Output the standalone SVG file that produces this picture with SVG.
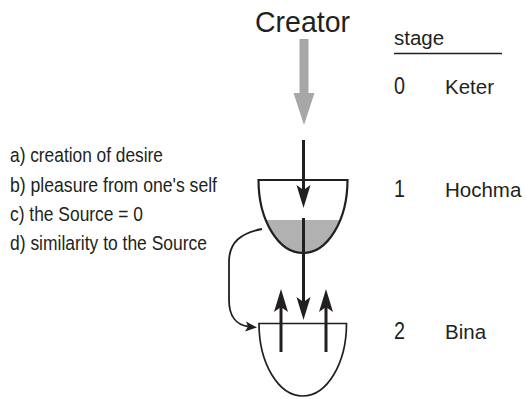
<svg xmlns="http://www.w3.org/2000/svg" xmlns:xlink="http://www.w3.org/1999/xlink" width="526" height="399" viewBox="0 0 526 399">
<style>
text{font-family:"Liberation Sans",Arial,sans-serif;fill:#231f20}
.lbl{font-size:20.5px}
.stg{font-size:20.5px}
.num{font-size:23px}
.bowl{fill:none;stroke:#231f20}
.ln{stroke:#231f20;stroke-width:3;fill:none}
.hd{fill:#231f20}
</style>
<defs>
<path id="head" d="M0,0 L-7,-23 L0,-18 L7,-23 Z"/>
<clipPath id="lower"><rect x="250" y="220" width="110" height="40"/></clipPath>
</defs>
<rect width="526" height="399" fill="#fff"/>

<g id="creator">
<text x="255" y="31.7" font-size="30" textLength="95" lengthAdjust="spacingAndGlyphs">Creator</text>
<polygon points="299.5,39 308.5,39 308.5,93 314.5,93 304,125 293.5,93 299.5,93" fill="#a7a7a7"/>
</g>

<g id="stage-header">
<text class="stg" x="394" y="45">stage</text>
<line x1="394" y1="53.5" x2="502" y2="53.5" stroke="#231f20" stroke-width="1.3"/>
</g>
<g id="stage0">
<text class="num" x="394" y="94" textLength="11" lengthAdjust="spacingAndGlyphs">0</text>
<text class="stg" x="445" y="94">Keter</text>
</g>
<g id="stage1">
<text class="num" x="394" y="197" textLength="11" lengthAdjust="spacingAndGlyphs">1</text>
<text class="stg" x="445" y="197">Hochma</text>
</g>
<g id="stage2">
<text class="num" x="394" y="339" textLength="11" lengthAdjust="spacingAndGlyphs">2</text>
<text class="stg" x="445" y="339">Bina</text>
</g>

<g id="list">
<text class="lbl" x="10" y="162" textLength="153" lengthAdjust="spacingAndGlyphs">a) creation of desire</text>
<text class="lbl" x="10" y="191.5" textLength="207" lengthAdjust="spacingAndGlyphs">b) pleasure from one's self</text>
<text class="lbl" x="10" y="221" textLength="133" lengthAdjust="spacingAndGlyphs">c) the Source = 0</text>
<text class="lbl" x="10" y="250" textLength="197" lengthAdjust="spacingAndGlyphs">d) similarity to the Source</text>
</g>

<g id="bowl1">
<path d="M347.5,180 A44.5,73 0 0 1 258.5,180 Z" fill="#b1b1b1" stroke="none" clip-path="url(#lower)"/>
<path class="bowl" stroke-width="2.2" d="M258.5,180 L347.5,180 A44.5,73 0 0 1 258.5,180 Z"/>
</g>

<g id="bowl2">
<path class="bowl" stroke-width="1.7" d="M259,323.5 L346.5,323.5 A43.75,72.5 0 0 1 259,323.5 Z"/>
</g>

<g id="connectors">
<line class="ln" x1="303.5" y1="140" x2="303.5" y2="192"/>
<use xlink:href="#head" class="hd" transform="translate(303.5,208)"/>
<line class="ln" x1="303.5" y1="218" x2="303.5" y2="304"/>
<use xlink:href="#head" class="hd" transform="translate(303.5,320)"/>
<line class="ln" x1="281" y1="352" x2="281" y2="304"/>
<use xlink:href="#head" class="hd" transform="translate(281,289) rotate(180)"/>
<line class="ln" x1="326" y1="352" x2="326" y2="304"/>
<use xlink:href="#head" class="hd" transform="translate(326,289) rotate(180)"/>
<path d="M262,229 C241,233 229,242 229,262 L229,300 C229,317 237,325 248,326.5" fill="none" stroke="#231f20" stroke-width="1.8"/>
<polygon class="hd" points="257,327.5 245,331.5 248,326.5 246,321.5"/>
</g>
</svg>
